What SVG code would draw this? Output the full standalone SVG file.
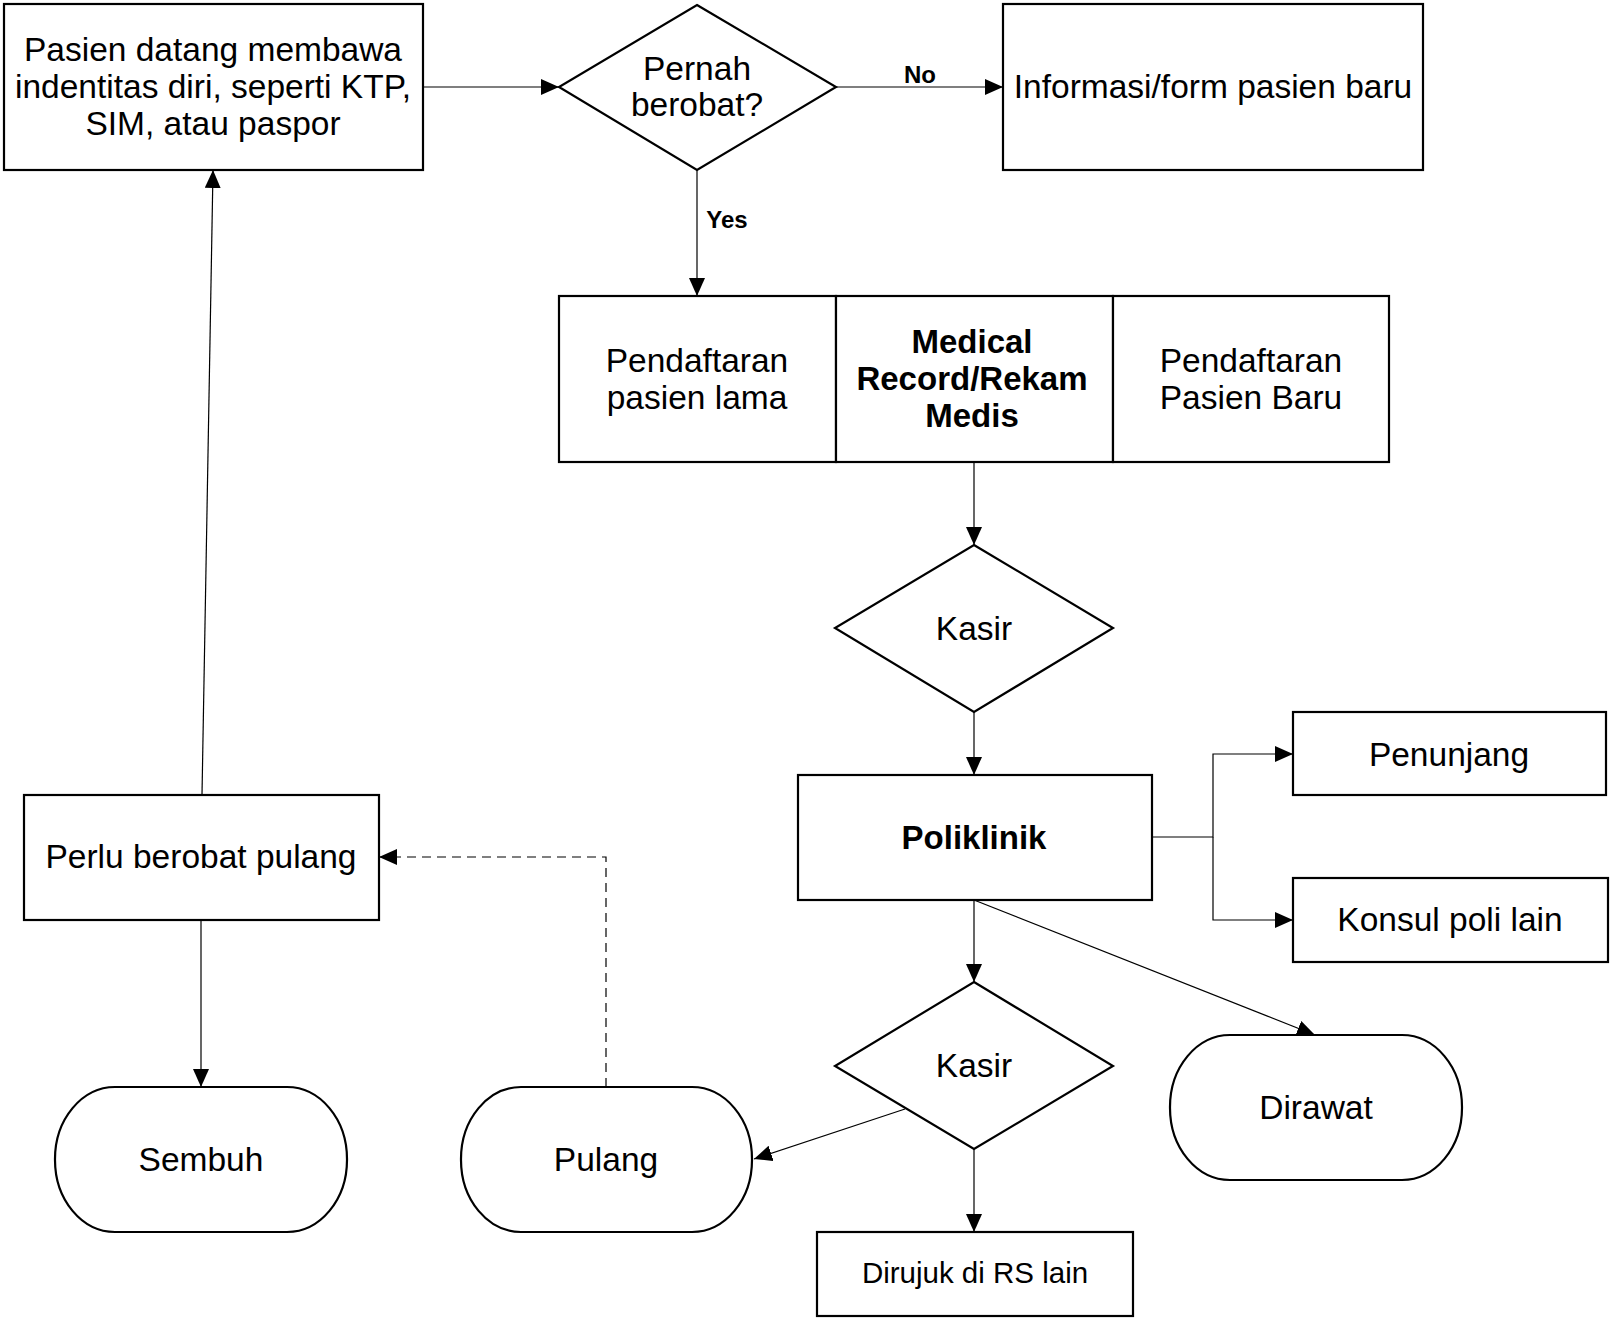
<svg xmlns="http://www.w3.org/2000/svg" width="1613" height="1321" viewBox="0 0 1613 1321">
<defs>
<style>
.n{fill:#fff;stroke:#000;stroke-width:2.2}
.c{fill:none;stroke:#000;stroke-width:1.2}
.d{stroke-dasharray:9,6}
text{font-family:"Liberation Sans",Arial,sans-serif;font-size:33.5px;fill:#000;text-anchor:middle}
.b{font-weight:bold;font-size:33px}
.s{font-size:24px;font-weight:bold}
.m{font-size:29.5px}
</style>
<marker id="a" markerUnits="userSpaceOnUse" markerWidth="19" markerHeight="16" viewBox="0 0 19 16" refX="18" refY="8" orient="auto">
<path d="M0,0 L18,8 L0,16 z" fill="#000"/>
</marker>
</defs>
<rect width="1613" height="1321" fill="#fff"/>
<g id="connectors">
<path class="c" d="M423,87 H559" marker-end="url(#a)"/>
<path class="c" d="M836,87 H1003" marker-end="url(#a)"/>
<path class="c" d="M697,170 V296" marker-end="url(#a)"/>
<path class="c" d="M974,462 V545" marker-end="url(#a)"/>
<path class="c" d="M974,712 V775" marker-end="url(#a)"/>
<path class="c" d="M1152,837 H1213 V754 H1293" marker-end="url(#a)"/>
<path class="c" d="M1213,837 V920 H1293" marker-end="url(#a)"/>
<path class="c" d="M974,900 V982" marker-end="url(#a)"/>
<path class="c" d="M974,900 L1315,1035" marker-end="url(#a)"/>
<path class="c" d="M905,1109 L754,1159" marker-end="url(#a)"/>
<path class="c" d="M974,1149 V1232" marker-end="url(#a)"/>
<path class="c d" d="M606,1087 V857 H379" marker-end="url(#a)"/>
<path class="c" d="M201,920 V1087" marker-end="url(#a)"/>
<path class="c" d="M202,795 L213,170" marker-end="url(#a)"/>
<text class="s" x="920" y="83">No</text>
<text class="s" x="727" y="228">Yes</text>
</g>
<g id="n-start">
<rect class="n" x="4" y="4" width="419" height="166"/>
<text x="213" y="61">Pasien datang membawa</text>
<text x="213" y="98">indentitas diri, seperti KTP,</text>
<text x="213" y="135">SIM, atau paspor</text>
</g>
<g id="n-pernah">
<polygon class="n" points="697,5 836,87 697,170 559,87"/>
<text x="697" y="80">Pernah</text>
<text x="697" y="116">berobat?</text>
</g>
<g id="n-info">
<rect class="n" x="1003" y="4" width="420" height="166"/>
<text x="1213" y="98">Informasi/form pasien baru</text>
</g>
<g id="n-lama">
<rect class="n" x="559" y="296" width="277" height="166"/>
<text x="697" y="372">Pendaftaran</text>
<text x="697" y="409">pasien lama</text>
</g>
<g id="n-medical">
<rect class="n" x="836" y="296" width="277" height="166"/>
<text class="b" x="972" y="353">Medical</text>
<text class="b" x="972" y="390">Record/Rekam</text>
<text class="b" x="972" y="427">Medis</text>
</g>
<g id="n-baru">
<rect class="n" x="1113" y="296" width="276" height="166"/>
<text x="1251" y="372">Pendaftaran</text>
<text x="1251" y="409">Pasien Baru</text>
</g>
<g id="n-kasir1">
<polygon class="n" points="974,545 1113,628 974,712 835,628"/>
<text x="974" y="640">Kasir</text>
</g>
<g id="n-poli">
<rect class="n" x="798" y="775" width="354" height="125"/>
<text class="b" x="974" y="849">Poliklinik</text>
</g>
<g id="n-penunjang">
<rect class="n" x="1293" y="712" width="313" height="83"/>
<text x="1449" y="766">Penunjang</text>
</g>
<g id="n-konsul">
<rect class="n" x="1293" y="878" width="315" height="84"/>
<text x="1450" y="931">Konsul poli lain</text>
</g>
<g id="n-kasir2">
<polygon class="n" points="974,982 1113,1066 974,1149 835,1066"/>
<text x="974" y="1077">Kasir</text>
</g>
<g id="n-dirawat">
<rect class="n" x="1170" y="1035" width="292" height="145" rx="60" ry="72"/>
<text x="1316" y="1119">Dirawat</text>
</g>
<g id="n-pulang">
<rect class="n" x="461" y="1087" width="291" height="145" rx="60" ry="72"/>
<text x="606" y="1171">Pulang</text>
</g>
<g id="n-sembuh">
<rect class="n" x="55" y="1087" width="292" height="145" rx="60" ry="72"/>
<text x="201" y="1171">Sembuh</text>
</g>
<g id="n-dirujuk">
<rect class="n" x="817" y="1232" width="316" height="84"/>
<text class="m" x="975" y="1283">Dirujuk di RS lain</text>
</g>
<g id="n-perlu">
<rect class="n" x="24" y="795" width="355" height="125"/>
<text x="201" y="868">Perlu berobat pulang</text>
</g>
</svg>
